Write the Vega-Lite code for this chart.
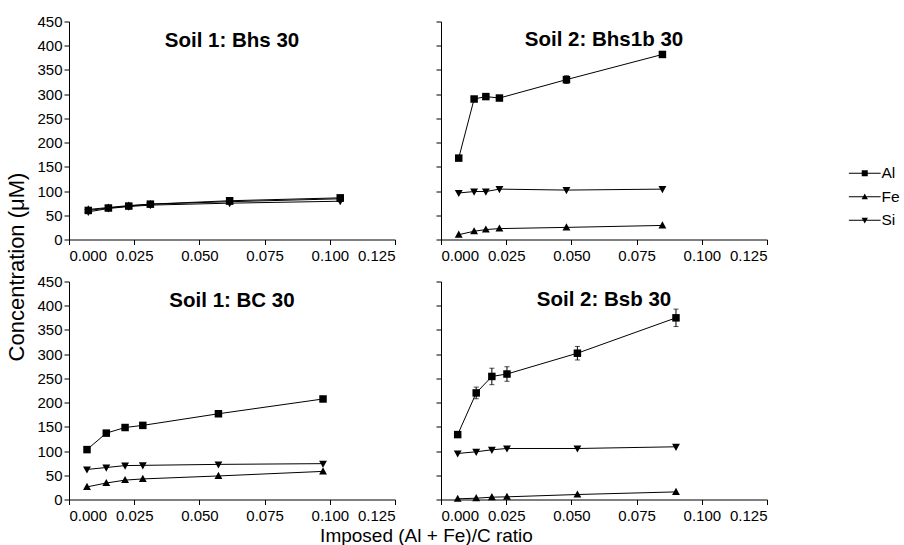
{
  "$schema": "https://vega.github.io/schema/vega-lite/v6.json",
  "padding": {"left": 5, "top": 14.5, "right": 0, "bottom": 0},
  "config": {
    "font": "Liberation Sans",
    "view": {"stroke": null},
    "axis": {"domainColor": "black", "tickColor": "black", "labelColor": "black", "titleColor": "black", "labelFont": "Liberation Sans", "labelFontSize": 15, "grid": false, "tickSize": 5, "titleFontWeight": "normal", "titleFont": "Liberation Sans"},
    "axisX": {"labelPadding": 4, "titleFontSize": 19},
    "axisY": {"labelPadding": 2, "titleFontSize": 22},
    "title": {"fontSize": 20.5, "fontWeight": "bold", "color": "black", "font": "Liberation Sans"},
    "legend": {"labelFont": "Liberation Sans", "labelFontSize": 15.5, "labelColor": "black"}
  },
  "data": {"values": [
    {"panel": "Bhs", "element": "Al", "x": 0.0074, "value": 60},
    {"panel": "Bhs", "element": "Al", "x": 0.0151, "value": 65},
    {"panel": "Bhs", "element": "Al", "x": 0.0229, "value": 69},
    {"panel": "Bhs", "element": "Al", "x": 0.0312, "value": 73},
    {"panel": "Bhs", "element": "Al", "x": 0.0616, "value": 80},
    {"panel": "Bhs", "element": "Al", "x": 0.104, "value": 86},
    {"panel": "Bhs", "element": "Fe", "x": 0.0074, "value": 62},
    {"panel": "Bhs", "element": "Fe", "x": 0.0151, "value": 66},
    {"panel": "Bhs", "element": "Fe", "x": 0.0229, "value": 70},
    {"panel": "Bhs", "element": "Fe", "x": 0.0312, "value": 73},
    {"panel": "Bhs", "element": "Fe", "x": 0.0616, "value": 78},
    {"panel": "Bhs", "element": "Fe", "x": 0.104, "value": 84},
    {"panel": "Bhs", "element": "Si", "x": 0.0074, "value": 57},
    {"panel": "Bhs", "element": "Si", "x": 0.0151, "value": 64},
    {"panel": "Bhs", "element": "Si", "x": 0.0229, "value": 68},
    {"panel": "Bhs", "element": "Si", "x": 0.0312, "value": 71},
    {"panel": "Bhs", "element": "Si", "x": 0.0616, "value": 75},
    {"panel": "Bhs", "element": "Si", "x": 0.104, "value": 79},

    {"panel": "Bhs1b", "element": "Al", "x": 0.0068, "value": 168},
    {"panel": "Bhs1b", "element": "Al", "x": 0.0127, "value": 290},
    {"panel": "Bhs1b", "element": "Al", "x": 0.0172, "value": 295},
    {"panel": "Bhs1b", "element": "Al", "x": 0.0224, "value": 292},
    {"panel": "Bhs1b", "element": "Al", "x": 0.0481, "value": 330, "lo": 322, "hi": 338},
    {"panel": "Bhs1b", "element": "Al", "x": 0.0849, "value": 382},
    {"panel": "Bhs1b", "element": "Fe", "x": 0.0068, "value": 10},
    {"panel": "Bhs1b", "element": "Fe", "x": 0.0127, "value": 17},
    {"panel": "Bhs1b", "element": "Fe", "x": 0.0172, "value": 20.5},
    {"panel": "Bhs1b", "element": "Fe", "x": 0.0224, "value": 22.5},
    {"panel": "Bhs1b", "element": "Fe", "x": 0.0481, "value": 25},
    {"panel": "Bhs1b", "element": "Fe", "x": 0.0849, "value": 29},
    {"panel": "Bhs1b", "element": "Si", "x": 0.0068, "value": 96},
    {"panel": "Bhs1b", "element": "Si", "x": 0.0127, "value": 99},
    {"panel": "Bhs1b", "element": "Si", "x": 0.0172, "value": 99},
    {"panel": "Bhs1b", "element": "Si", "x": 0.0224, "value": 104},
    {"panel": "Bhs1b", "element": "Si", "x": 0.0481, "value": 102},
    {"panel": "Bhs1b", "element": "Si", "x": 0.0849, "value": 104},

    {"panel": "BC", "element": "Al", "x": 0.0069, "value": 103},
    {"panel": "BC", "element": "Al", "x": 0.0143, "value": 137},
    {"panel": "BC", "element": "Al", "x": 0.0215, "value": 148.6},
    {"panel": "BC", "element": "Al", "x": 0.0283, "value": 153},
    {"panel": "BC", "element": "Al", "x": 0.0573, "value": 177},
    {"panel": "BC", "element": "Al", "x": 0.0974, "value": 207.5},
    {"panel": "BC", "element": "Fe", "x": 0.0069, "value": 26},
    {"panel": "BC", "element": "Fe", "x": 0.0143, "value": 34},
    {"panel": "BC", "element": "Fe", "x": 0.0215, "value": 40},
    {"panel": "BC", "element": "Fe", "x": 0.0283, "value": 42.5},
    {"panel": "BC", "element": "Fe", "x": 0.0573, "value": 48.6},
    {"panel": "BC", "element": "Fe", "x": 0.0974, "value": 58},
    {"panel": "BC", "element": "Si", "x": 0.0069, "value": 62},
    {"panel": "BC", "element": "Si", "x": 0.0143, "value": 66},
    {"panel": "BC", "element": "Si", "x": 0.0215, "value": 70},
    {"panel": "BC", "element": "Si", "x": 0.0283, "value": 70.5},
    {"panel": "BC", "element": "Si", "x": 0.0573, "value": 72.5},
    {"panel": "BC", "element": "Si", "x": 0.0974, "value": 74},

    {"panel": "Bsb", "element": "Al", "x": 0.0064, "value": 134},
    {"panel": "Bsb", "element": "Al", "x": 0.0135, "value": 220, "lo": 208, "hi": 232},
    {"panel": "Bsb", "element": "Al", "x": 0.0195, "value": 254, "lo": 237, "hi": 271},
    {"panel": "Bsb", "element": "Al", "x": 0.0253, "value": 259, "lo": 244, "hi": 274},
    {"panel": "Bsb", "element": "Al", "x": 0.0523, "value": 302, "lo": 288, "hi": 316},
    {"panel": "Bsb", "element": "Al", "x": 0.0901, "value": 375, "lo": 357, "hi": 393},
    {"panel": "Bsb", "element": "Fe", "x": 0.0064, "value": 1.4},
    {"panel": "Bsb", "element": "Fe", "x": 0.0135, "value": 2.7},
    {"panel": "Bsb", "element": "Fe", "x": 0.0195, "value": 4.8},
    {"panel": "Bsb", "element": "Fe", "x": 0.0253, "value": 5.5},
    {"panel": "Bsb", "element": "Fe", "x": 0.0523, "value": 10.3},
    {"panel": "Bsb", "element": "Fe", "x": 0.0901, "value": 15.7},
    {"panel": "Bsb", "element": "Si", "x": 0.0064, "value": 95},
    {"panel": "Bsb", "element": "Si", "x": 0.0135, "value": 98.5},
    {"panel": "Bsb", "element": "Si", "x": 0.0195, "value": 102.6},
    {"panel": "Bsb", "element": "Si", "x": 0.0253, "value": 105.3},
    {"panel": "Bsb", "element": "Si", "x": 0.0523, "value": 105.3},
    {"panel": "Bsb", "element": "Si", "x": 0.0901, "value": 108.8}
  ]},
  "bounds": "flush",
  "columns": 2,
  "spacing": {"row": 42, "column": 46},
  "resolve": {"scale": {"shape": "independent"}, "legend": {"shape": "independent"}},
  "concat": [
    {
      "width": 326, "height": 218,
      "title": {"text": "Soil 1: Bhs 30", "offset": -36.5},
      "transform": [{"filter": "datum.panel === 'Bhs'"}],
      "resolve": {"scale": {"shape": "independent"}, "legend": {"shape": "independent"}},
      "encoding": {
        "x": {"field": "x", "type": "quantitative", "scale": {"domain": [0, 0.125]}, "axis": {"values": [0, 0.025, 0.05, 0.075, 0.1, 0.125], "format": ".3f", "title": null}},
        "y": {"field": "value", "type": "quantitative", "scale": {"domain": [0, 450]}, "axis": {"values": [0, 50, 100, 150, 200, 250, 300, 350, 400, 450], "title": "Concentration (μM)", "titleX": -41, "titleY": 245}}
      },
      "layer": [
        {"mark": {"type": "line", "color": "black", "strokeWidth": 1}, "encoding": {"detail": {"field": "element"}}},
        {"mark": {"type": "point", "filled": true, "color": "black", "opacity": 1, "size": 56},
         "encoding": {"shape": {"field": "element", "type": "nominal",
           "scale": {"domain": ["Al", "Fe", "Si"], "range": ["M-1,-1H1V1H-1Z", "M0,-1.1L1.05,0.8H-1.05Z", "M0,1.1L1.05,-0.8H-1.05Z"]},
           "legend": null}}},
        {"transform": [{"filter": "false"}],
         "mark": {"type": "point", "filled": true, "color": "black", "opacity": 1, "size": 36},
         "encoding": {"shape": {"field": "element", "type": "nominal",
           "scale": {"domain": ["Al", "Fe", "Si"], "range": ["M-5.3,-0.17H5.3V0.17H-5.3ZM-1,-1H1V1H-1Z", "M-5.3,-0.17H5.3V0.17H-5.3ZM0,-1.1L1.05,0.8H-1.05Z", "M-5.3,-0.17H5.3V0.17H-5.3ZM0,1.1L-1.05,-0.8H1.05Z"]},
           "legend": {"title": null, "orient": "none", "legendX": 788, "legendY": 144, "labelOffset": 9, "rowPadding": 6.5, "symbolSize": 36}}}}
      ]
    },
    {
      "width": 326, "height": 218,
      "title": {"text": "Soil 2: Bhs1b 30", "offset": -29},
      "transform": [{"filter": "datum.panel === 'Bhs1b'"}],
      "encoding": {
        "x": {"field": "x", "type": "quantitative", "scale": {"domain": [0, 0.125]}, "axis": {"values": [0, 0.025, 0.05, 0.075, 0.1, 0.125], "format": ".3f", "title": null}},
        "y": {"field": "value", "type": "quantitative", "scale": {"domain": [0, 450]}, "axis": {"values": [0, 50, 100, 150, 200, 250, 300, 350, 400, 450], "labels": false, "title": null}}
      },
      "layer": [
        {"mark": {"type": "line", "color": "black", "strokeWidth": 1}, "encoding": {"detail": {"field": "element"}}},
        {"transform": [{"filter": "isValid(datum.lo)"}], "mark": {"type": "errorbar", "ticks": true, "color": "black"},
         "encoding": {"y": {"field": "lo", "type": "quantitative"}, "y2": {"field": "hi"}}},
        {"mark": {"type": "point", "filled": true, "color": "black", "opacity": 1, "size": 56},
         "encoding": {"shape": {"field": "element", "type": "nominal",
           "scale": {"domain": ["Al", "Fe", "Si"], "range": ["M-1,-1H1V1H-1Z", "M0,-1.1L1.05,0.8H-1.05Z", "M0,1.1L1.05,-0.8H-1.05Z"]},
           "legend": null}}}
      ]
    },
    {
      "width": 326, "height": 218,
      "title": {"text": "Soil 1: BC 30", "offset": -36.5},
      "transform": [{"filter": "datum.panel === 'BC'"}],
      "encoding": {
        "x": {"field": "x", "type": "quantitative", "scale": {"domain": [0, 0.125]}, "axis": {"values": [0, 0.025, 0.05, 0.075, 0.1, 0.125], "format": ".3f", "title": "Imposed (Al + Fe)/C ratio", "titleX": 357, "titleY": 27}},
        "y": {"field": "value", "type": "quantitative", "scale": {"domain": [0, 450]}, "axis": {"values": [0, 50, 100, 150, 200, 250, 300, 350, 400, 450], "title": null}}
      },
      "layer": [
        {"mark": {"type": "line", "color": "black", "strokeWidth": 1}, "encoding": {"detail": {"field": "element"}}},
        {"mark": {"type": "point", "filled": true, "color": "black", "opacity": 1, "size": 56},
         "encoding": {"shape": {"field": "element", "type": "nominal",
           "scale": {"domain": ["Al", "Fe", "Si"], "range": ["M-1,-1H1V1H-1Z", "M0,-1.1L1.05,0.8H-1.05Z", "M0,1.1L1.05,-0.8H-1.05Z"]},
           "legend": null}}}
      ]
    },
    {
      "width": 326, "height": 218,
      "title": {"text": "Soil 2: Bsb 30", "offset": -29},
      "transform": [{"filter": "datum.panel === 'Bsb'"}],
      "encoding": {
        "x": {"field": "x", "type": "quantitative", "scale": {"domain": [0, 0.125]}, "axis": {"values": [0, 0.025, 0.05, 0.075, 0.1, 0.125], "format": ".3f", "title": null}},
        "y": {"field": "value", "type": "quantitative", "scale": {"domain": [0, 450]}, "axis": {"values": [0, 50, 100, 150, 200, 250, 300, 350, 400, 450], "labels": false, "title": null}}
      },
      "layer": [
        {"mark": {"type": "line", "color": "black", "strokeWidth": 1}, "encoding": {"detail": {"field": "element"}}},
        {"transform": [{"filter": "isValid(datum.lo)"}], "mark": {"type": "errorbar", "ticks": true, "color": "black"},
         "encoding": {"y": {"field": "lo", "type": "quantitative"}, "y2": {"field": "hi"}}},
        {"mark": {"type": "point", "filled": true, "color": "black", "opacity": 1, "size": 56},
         "encoding": {"shape": {"field": "element", "type": "nominal",
           "scale": {"domain": ["Al", "Fe", "Si"], "range": ["M-1,-1H1V1H-1Z", "M0,-1.1L1.05,0.8H-1.05Z", "M0,1.1L1.05,-0.8H-1.05Z"]},
           "legend": null}}}
      ]
    }
  ]
}
